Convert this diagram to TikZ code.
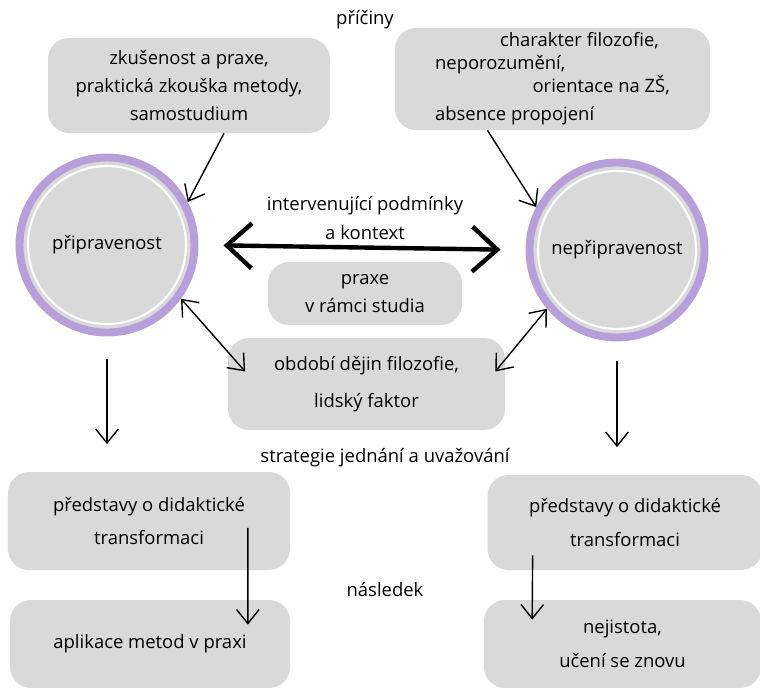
\documentclass[tikz,border=0pt]{standalone}
\usepackage{fontspec}
\setmainfont{Open Sans}
\usepackage{xcolor}
\usepackage{tikz}
\usetikzlibrary{arrows.meta,shapes,shapes.geometric}
\usetikzlibrary{positioning}
\definecolor{boxgray}{HTML}{D9D9D9}
\definecolor{ringviolet}{HTML}{B7A0DA}
\begin{document}
\begin{tikzpicture}[font=\fontsize{10.5}{16}\selectfont]
    \tikzstyle{box}=[fill=boxgray, rounded corners=12pt, align=center, inner sep=2pt];
    \tikzstyle{ring}=[circle, fill=boxgray, draw=ringviolet, line width=4.5pt, minimum size=3.5cm,
        path picture={\draw[white, line width=1.2pt] (path picture bounding box.center) circle (1.58cm);}];
    \tikzstyle{arr}=[-{Straight Barb[length=2.8mm,width=4.5mm]}, line width=0.8pt];
    \tikzstyle{arrs}=[{Straight Barb[length=2.8mm,width=4.5mm]}-{Straight Barb[length=2.8mm,width=4.5mm]}, line width=0.8pt];
    \useasboundingbox (0,0) rectangle (15.2,-13.76);
    \node (priciny) at (7.3, -0.4) {příčiny};
    \node[box, minimum width=5.64cm, minimum height=1.9cm] (zkusenost) at (3.78, -1.71) {
    zkušenost a praxe,\\
    praktická zkouška metody,\\
    samostudium
    };
    \node[box, minimum width=6.3cm, minimum height=2.04cm, align=left] (charakter) at (11.05, -1.58) {
    \hspace*{1.3cm}charakter filozofie,\\[-3pt]
    neporozumění,\\[-3pt]
    \hspace*{1.95cm}orientace na ZŠ,\\
    absence propojení
    };
    \node[ring] (pripr) at (2.14, -4.9) {připravenost};
    \node[ring] (nepripr) at (12.34, -5.0) {nepřipravenost};
    \node[align=center] (podminky) at (7.3, -4.36) {
    intervenující podmínky\\
    a kontext
    };
    \node[box, minimum width=3.88cm, minimum height=1.26cm] (praxe) at (7.3, -5.87) {
    praxe\\
    v rámci studia
    };
    \node[box, minimum width=5.54cm, minimum height=1.84cm, font=\fontsize{10.5}{21}\selectfont] (obdobi) at (7.33, -7.68) {
    období dějin filozofie,\\
    lidský faktor
    };
    \node (strategie) at (7.7, -9.16) {strategie jednání a uvažování};
    \node[box, minimum width=5.64cm, minimum height=1.96cm, font=\fontsize{10.5}{19}\selectfont] (predL) at (2.98, -10.42) {
    představy o didaktické\\
    transformaci
    };
    \node[box, minimum width=5.5cm, minimum height=1.9cm, font=\fontsize{10.5}{19}\selectfont] (predR) at (12.5, -10.45) {
    představy o didaktické\\
    transformaci
    };
    \node (nasledek) at (7.7, -11.8) {následek};
    \node[box, minimum width=5.6cm, minimum height=1.76cm] (aplikace) at (3.0, -12.88) {aplikace metod v praxi};
    \node[box, minimum width=5.54cm, minimum height=1.76cm, font=\fontsize{10.5}{19}\selectfont] (nejistota) at (12.45, -12.88) {
    nejistota,\\
    učení se znovu
    };
    \draw[arr] ([xshift=0.7cm]zkusenost.south) -- (pripr.28);
    \draw[arr] ([xshift=-1.3cm]charakter.south) -- (nepripr.152);
    \draw[{Straight Barb[length=5mm,width=9mm]}-{Straight Barb[length=5mm,width=9mm]}, line width=2.5pt, shorten <=0.5cm, shorten >=0.5cm] (pripr.east) -- (nepripr.west);
    \draw[arrs] (pripr.-36) -- ([shift={(0.35,0.25)}]obdobi.west);
    \draw[arrs] (nepripr.-140) -- ([shift={(-0.2,0.25)}]obdobi.east);
    \draw[arr, shorten <=0.45cm, shorten >=0.55cm] (pripr.south) -- (pripr.south |- predL.north);
    \draw[arr, shorten <=0.4cm, shorten >=0.55cm] (nepripr.south) -- (nepripr.south |- predR.north);
    \draw[arr] ([xshift=-0.85cm,yshift=0.85cm]predL.south east) -- ([xshift=-0.85cm,yshift=-0.5cm]aplikace.north east);
    \draw[arr] ([xshift=0.91cm,yshift=0.3cm]predR.south west) -- ([xshift=0.97cm,yshift=-0.4cm]nejistota.north west);
\end{tikzpicture}
\end{document}
